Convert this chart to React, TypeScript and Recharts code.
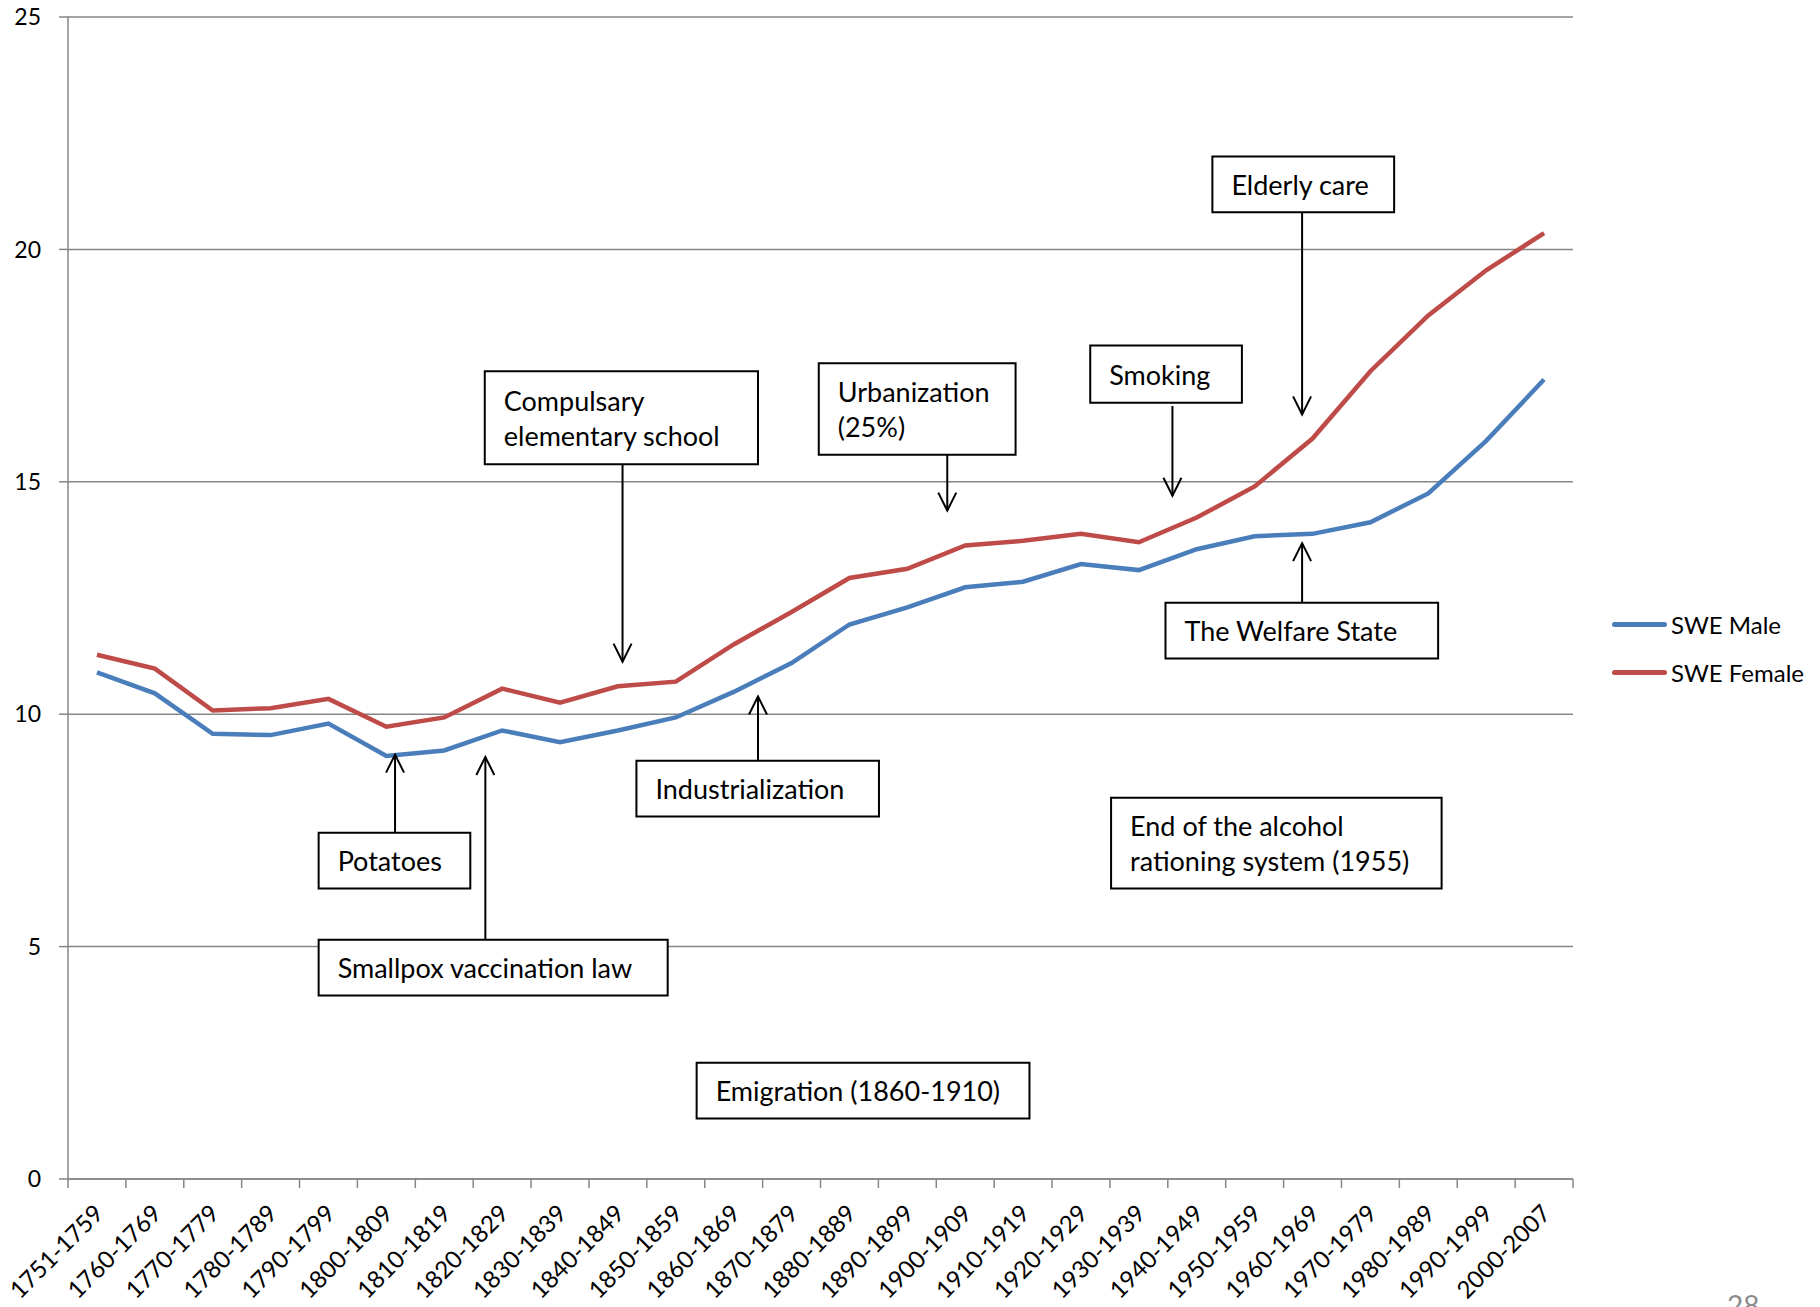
import React from "react";
import { LineChart, Line, XAxis, YAxis, CartesianGrid, ReferenceArea, ReferenceLine } from "recharts";

const periods = [
  "1751-1759", "1760-1769", "1770-1779", "1780-1789", "1790-1799", "1800-1809",
  "1810-1819", "1820-1829", "1830-1839", "1840-1849", "1850-1859", "1860-1869",
  "1870-1879", "1880-1889", "1890-1899", "1900-1909", "1910-1919", "1920-1929",
  "1930-1939", "1940-1949", "1950-1959", "1960-1969", "1970-1979", "1980-1989",
  "1990-1999", "2000-2007",
];

const sweMale = [
  10.9, 10.45, 9.58, 9.55, 9.8, 9.1, 9.22, 9.65, 9.4, 9.65, 9.93, 10.48, 11.1,
  11.93, 12.3, 12.73, 12.85, 13.23, 13.1, 13.55, 13.83, 13.88, 14.13, 14.75, 15.88, 17.2,
];

const sweFemale = [
  11.28, 10.98, 10.08, 10.13, 10.33, 9.73, 9.93, 10.55, 10.25, 10.6, 10.7, 11.5, 12.2,
  12.93, 13.13, 13.63, 13.73, 13.88, 13.7, 14.23, 14.9, 15.93, 17.38, 18.58, 19.55, 20.35,
];

const yTicks = [0, 5, 10, 15, 20, 25];

const series = [
  { key: "male", name: "SWE Male", color: "#4A7EBB" },
  { key: "female", name: "SWE Female", color: "#BE4B48" },
];

// annotation boxes, in category units (x, 0..26) and value units (y)
const notes = [
  { lines: ["Compulsary", "elementary school"], x1: 7.2, x2: 11.92, y1: 15.38, y2: 17.38 },
  { lines: ["Urbanization", "(25%)"], x1: 12.97, x2: 16.37, y1: 15.58, y2: 17.55 },
  { lines: ["Smoking"], x1: 17.66, x2: 20.28, y1: 16.7, y2: 17.93 },
  { lines: ["Elderly care"], x1: 19.77, x2: 22.91, y1: 20.8, y2: 22.0 },
  { lines: ["The Welfare State"], x1: 18.96, x2: 23.67, y1: 11.2, y2: 12.4 },
  { lines: ["Industrialization"], x1: 9.82, x2: 14.01, y1: 7.8, y2: 9.0 },
  { lines: ["Potatoes"], x1: 4.33, x2: 6.95, y1: 6.25, y2: 7.45 },
  { lines: ["Smallpox vaccination law"], x1: 4.33, x2: 10.36, y1: 3.95, y2: 5.15 },
  { lines: ["Emigration (1860-1910)"], x1: 10.86, x2: 16.61, y1: 1.3, y2: 2.5 },
  { lines: ["End of the alcohol", "rationing system (1955)"], x1: 18.02, x2: 23.73, y1: 6.25, y2: 8.2 },
];

const arrows = [
  { x: 9.58, from: 15.38, to: 11.13 },
  { x: 15.19, from: 15.58, to: 14.38 },
  { x: 19.08, from: 16.63, to: 14.7 },
  { x: 21.32, from: 20.8, to: 16.45 },
  { x: 21.32, from: 12.4, to: 13.68 },
  { x: 11.92, from: 9.0, to: 10.38 },
  { x: 5.65, from: 7.45, to: 9.13 },
  { x: 7.21, from: 5.15, to: 9.08 },
];

const data = periods.map((p, i) => ({ period: p, pos: i + 0.5, male: sweMale[i], female: sweFemale[i] }));

const W = 1820;
const H = 1307;
const margin = { top: 17, right: 247, left: 8, bottom: 8 };
const Y_AXIS_W = 60;
const STEP = (W - margin.left - Y_AXIS_W - margin.right) / periods.length;
const FONT = "Lato, 'Open Sans', sans-serif";
const GRID = "#868686";

const PeriodTick = (props: any) => {
  const { x, y, payload, index } = props;
  return (
    <g>
      <line x1={x - STEP / 2} x2={x - STEP / 2} y1={y} y2={y + 9} stroke={GRID} strokeWidth={1.5} />
      {index === periods.length - 1 && (
        <line x1={x + STEP / 2} x2={x + STEP / 2} y1={y} y2={y + 9} stroke={GRID} strokeWidth={1.5} />
      )}
      <text
        x={x + 8}
        y={y + 36}
        transform={`rotate(-45, ${x + 8}, ${y + 36})`}
        textAnchor="end"
        fontFamily={FONT}
        fontSize={24}
        fill="#000"
      >
        {payload.value}
      </text>
    </g>
  );
};

const Arrow = (props: any) => {
  const { x1, y1, x2, y2 } = props;
  const dir = y2 > y1 ? 1 : -1;
  return (
    <g stroke="#000" strokeWidth={2} fill="none">
      <line x1={x1} y1={y1} x2={x2} y2={y2} />
      <polyline points={`${x2 - 9},${y2 - dir * 18} ${x2},${y2} ${x2 + 9},${y2 - dir * 18}`} />
    </g>
  );
};

const boxLabel = (lines: string[]) => (props: any) => {
  const vb = props.viewBox;
  const cy = vb.y + vb.height / 2;
  return (
    <g>
      {lines.map((t, i) => (
        <text
          key={t}
          x={vb.x + 19}
          y={cy + (i - (lines.length - 1) / 2) * 35}
          dominantBaseline="central"
          fontFamily={FONT}
          fontSize={27}
          fill="#000"
        >
          {t}
        </text>
      ))}
    </g>
  );
};

export default function App() {
  return (
    <div style={{ position: "absolute", left: 0, top: 0, width: W, height: H, overflow: "hidden", background: "#fff" }}>
      <LineChart width={W} height={H} data={data} margin={margin}>
        <CartesianGrid vertical={false} stroke={GRID} strokeWidth={1.5} />
        <XAxis
          dataKey="period"
          scale="band"
          interval={0}
          tickLine={false}
          tickSize={0}
          tickMargin={0}
          height={120}
          axisLine={{ stroke: GRID, strokeWidth: 1.5 }}
          tick={<PeriodTick />}
        />
        <XAxis xAxisId="ann" dataKey="pos" type="number" domain={[0, 26]} allowDataOverflow hide />
        <YAxis
          width={Y_AXIS_W}
          domain={[0, 25]}
          ticks={yTicks}
          interval={0}
          tickSize={9}
          tickMargin={18}
          axisLine={{ stroke: GRID, strokeWidth: 1.5 }}
          tickLine={{ stroke: GRID, strokeWidth: 1.5 }}
          tick={{ fontFamily: FONT, fontSize: 23, fill: "#000" }}
        />
        {series.map((s) => (
          <Line
            key={s.key}
            dataKey={s.key}
            name={s.name}
            stroke={s.color}
            strokeWidth={4.5}
            dot={false}
            activeDot={false}
            isAnimationActive={false}
          />
        ))}
        {arrows.map((a, i) => (
          <ReferenceLine
            key={`a${i}`}
            xAxisId="ann"
            segment={[{ x: a.x, y: a.from }, { x: a.x, y: a.to }]}
            shape={<Arrow />}
          />
        ))}
        {notes.map((n, i) => (
          <ReferenceArea
            key={`n${i}`}
            xAxisId="ann"
            x1={n.x1}
            x2={n.x2}
            y1={n.y1}
            y2={n.y2}
            fill="#fff"
            fillOpacity={1}
            stroke="#000"
            strokeWidth={2}
            label={boxLabel(n.lines)}
          />
        ))}
      </LineChart>
      <div style={{ position: "absolute", left: 1612, top: 600, fontFamily: FONT, fontSize: 24 }}>
        {series.map((s) => (
          <div key={s.key} style={{ display: "flex", alignItems: "center", height: 48 }}>
            <div style={{ width: 55, height: 5, borderRadius: 3, background: s.color, marginRight: 4 }} />
            <span>{s.name}</span>
          </div>
        ))}
      </div>
      <div style={{ position: "absolute", left: 1727, top: 1288, fontFamily: FONT, fontSize: 28, color: "#8c8c8c" }}>28</div>
    </div>
  );
}
